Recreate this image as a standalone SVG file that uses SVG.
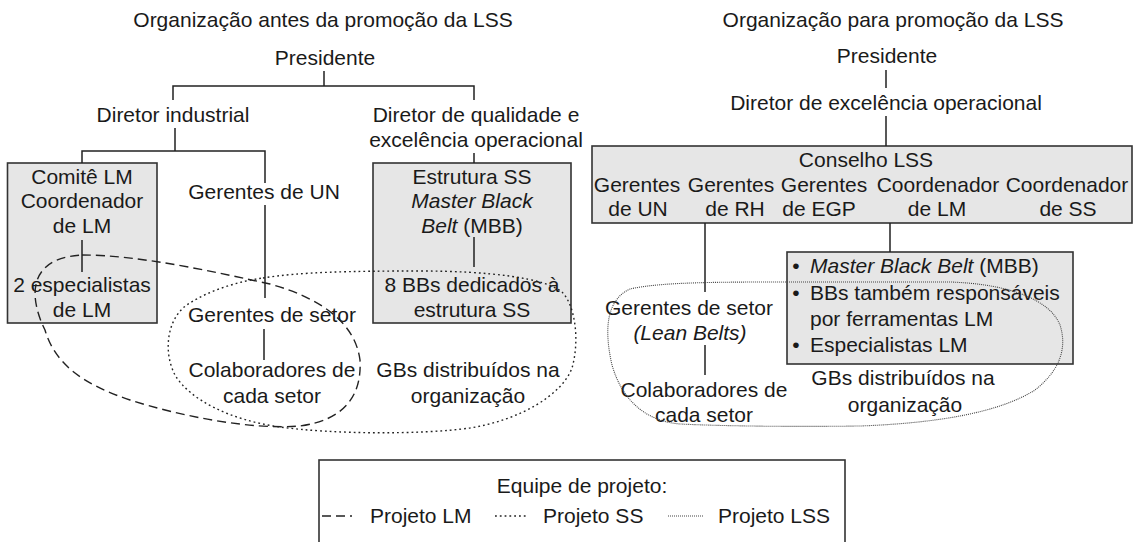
<svg xmlns="http://www.w3.org/2000/svg" width="1139" height="542" viewBox="0 0 1139 542">
<style>
text { font-family: "Liberation Sans", Arial, sans-serif; font-size: 21px; fill: #1a1a1a; text-anchor: middle; }
.l { text-anchor: start; }
.i { font-style: italic; }
.box { fill: #e6e6e6; stroke: #333; stroke-width: 1.6; }
.ln { stroke: #222; stroke-width: 1.5; fill: none; }
.lm { stroke: #222; stroke-width: 1.4; fill: none; stroke-dasharray: 9 5; }
.ss { stroke: #222; stroke-width: 1.4; fill: none; stroke-dasharray: 1.8 3; }
.lss { stroke: #444; stroke-width: 1.1; fill: none; stroke-dasharray: 1 1; }
</style>
<rect width="1139" height="542" fill="#fff"/>

<!-- LEFT CHART -->
<g id="title-left"><text x="323" y="27">Organização antes da promoção da LSS</text></g>
<g id="l-presidente"><text x="325" y="65">Presidente</text></g>
<g id="l-diretor-industrial"><text x="173" y="122">Diretor industrial</text></g>
<g id="l-diretor-qualidade"><text x="476" y="122">Diretor de qualidade e</text><text x="476" y="147">excelência operacional</text></g>
<g id="l-comite-lm">
<rect class="box" x="7.5" y="163" width="149.5" height="160"/>
<text x="82" y="184">Comitê LM</text>
<text x="82" y="208">Coordenador</text>
<text x="82" y="233">de LM</text>
<text x="82" y="292">2 especialistas</text>
<text x="82" y="317">de LM</text>
</g>
<g id="l-estrutura-ss">
<rect class="box" x="373" y="163" width="198" height="160"/>
<text x="472" y="184">Estrutura SS</text>
<text x="472" y="208" class="i">Master Black</text>
<text x="472" y="233"><tspan class="i">Belt</tspan> (MBB)</text>
<text x="472" y="292">8 BBs dedicados à</text>
<text x="472" y="317">estrutura SS</text>
</g>
<g id="l-gerentes-un"><text x="264" y="199">Gerentes de UN</text></g>
<g id="l-gerentes-setor"><text x="272" y="322">Gerentes de setor</text></g>
<g id="l-colaboradores"><text x="272" y="377">Colaboradores de</text><text x="272" y="403">cada setor</text></g>
<g id="l-gbs"><text x="468" y="377">GBs distribuídos na</text><text x="468" y="403">organização</text></g>

<!-- RIGHT CHART -->
<g id="title-right"><text x="893" y="27">Organização para promoção da LSS</text></g>
<g id="r-presidente"><text x="887" y="63">Presidente</text></g>
<g id="r-diretor"><text x="886" y="110">Diretor de excelência operacional</text></g>
<g id="r-conselho">
<rect class="box" x="592" y="146" width="540" height="77"/>
<text x="866" y="167">Conselho LSS</text>
<text x="637" y="192">Gerentes</text>
<text x="731" y="192">Gerentes</text>
<text x="824" y="192">Gerentes</text>
<text x="938" y="192">Coordenador</text>
<text x="1067" y="192">Coordenador</text>
<text x="638" y="216">de UN</text>
<text x="735" y="216">de RH</text>
<text x="819" y="216">de EGP</text>
<text x="937" y="216">de LM</text>
<text x="1068" y="216">de SS</text>
</g>
<g id="r-gerentes-setor"><text x="689" y="315">Gerentes de setor</text><text x="690" y="340" class="i">(Lean Belts)</text></g>
<g id="r-colaboradores"><text x="704" y="397">Colaboradores de</text><text x="704" y="422">cada setor</text></g>
<g id="r-mbb">
<rect class="box" x="787" y="252" width="286" height="112"/>
<text x="796" y="273">•</text>
<text x="810" y="273" class="l"><tspan class="i">Master Black Belt</tspan> (MBB)</text>
<text x="796" y="300">•</text>
<text x="810" y="300" class="l">BBs também responsáveis</text>
<text x="810" y="326" class="l">por ferramentas LM</text>
<text x="796" y="352">•</text>
<text x="810" y="352" class="l">Especialistas LM</text>
</g>
<g id="r-gbs"><text x="903" y="385">GBs distribuídos na</text><text x="905" y="412">organização</text></g>

<!-- CONNECTORS -->
<g id="connectors">
<path class="ln" d="M324 71 V86 M173 100 V86 H474 V100 M175 128 V151 M82 163 V151 H265 V183 M265 205 V298 M264 329 V360 M474 153 V163 M82 240 V272 M474 237 V267"/>
<path class="ln" d="M886 70 V88 M886 116 V146 M705 223 V292 M705 345 V375 M890 223 V252"/>
</g>

<!-- PROJECT TEAMS -->
<g id="teams">
<path id="loop-lm" class="lm" d="M82 255 C140 255, 215 272, 270 284 C320 298, 355 322, 360 360 C362 395, 345 420, 300 426 C250 430, 180 416, 130 400 C85 385, 55 365, 45 330 C30 300, 25 258, 82 255 Z"/>
<path id="loop-ss" class="ss" d="M263 278 C300 272, 350 271, 420 271 C490 271, 545 278, 562 292 C575 305, 580 340, 572 368 C562 395, 520 420, 470 428 C420 435, 330 434, 280 427 C230 420, 190 400, 175 375 C162 350, 168 315, 190 303 C210 290, 240 281, 263 278 Z"/>
<path id="loop-lss" class="lss" d="M787 282 L950 282 C1010 284, 1050 300, 1060 325 C1068 350, 1058 372, 1035 390 C1000 412, 940 423, 860 426 C790 427, 720 426, 680 424 C645 421, 622 400, 612 365 C604 330, 606 300, 630 289 C660 282, 720 282, 787 282 Z"/>
</g>

<!-- LEGEND -->
<g id="legend">
<rect x="319" y="460" width="526" height="100" fill="none" stroke="#333" stroke-width="1.6"/>
<text x="582" y="493">Equipe de projeto:</text>
<path class="lm" d="M322 516 H352"/>
<text x="370" y="523" class="l">Projeto LM</text>
<path class="ss" d="M495 516 H527"/>
<text x="543" y="523" class="l">Projeto SS</text>
<path class="lss" d="M668 516 H703"/>
<text x="718" y="523" class="l">Projeto LSS</text>
</g>
</svg>
